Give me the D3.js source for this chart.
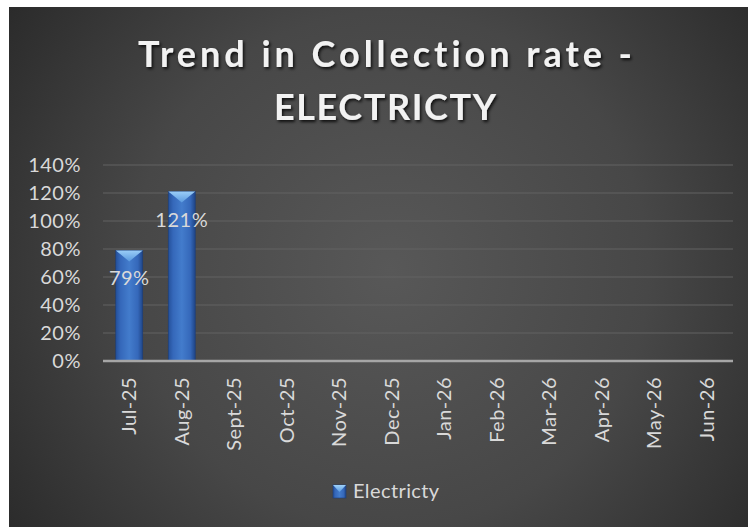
<!DOCTYPE html>
<html>
<head>
<meta charset="utf-8">
<script src="https://cdn.jsdelivr.net/npm/d3@7"></script>
<style>
  html, body { margin: 0; padding: 0; background: #ffffff; }
  svg { display: block; }
  text { font-family: Lato, "Open Sans", sans-serif; font-variant-ligatures: none; }
</style>
</head>
<body>
<svg id="chart" width="748" height="527"></svg>
<script>
// Monthly collection rate, electricity, FY Jul-25 to Jun-26
const months = ["Jul-25", "Aug-25", "Sept-25", "Oct-25", "Nov-25", "Dec-25",
                "Jan-26", "Feb-26", "Mar-26", "Apr-26", "May-26", "Jun-26"];
const collectionRate = [0.79, 1.21, null, null, null, null, null, null, null, null, null, null];
const yTicks = [0, 0.2, 0.4, 0.6, 0.8, 1.0, 1.2, 1.4];
const seriesName = "Electricty";
const titleLines = ["Trend in Collection rate -", "ELECTRICTY"];

const svg = d3.select("#chart");
const W = 748, H = 527;
const plot = { left: 103, right: 733, top: 165, bottom: 361 };
const labelFont = 20, labelSpacing = 0.5, labelColor = "#d9d9d9";

const defs = svg.append("defs");

// dark radial backdrop
const bg = defs.append("radialGradient").attr("id", "bgGrad")
  .attr("gradientUnits", "userSpaceOnUse")
  .attr("cx", 390).attr("cy", 270).attr("r", 470);
bg.append("stop").attr("offset", "0%").attr("stop-color", "#585858");
bg.append("stop").attr("offset", "55%").attr("stop-color", "#474747");
bg.append("stop").attr("offset", "100%").attr("stop-color", "#2a2a2a");

// bar body shading
const barGrad = defs.append("linearGradient").attr("id", "barGrad")
  .attr("x1", "0%").attr("x2", "100%").attr("y1", "0%").attr("y2", "0%");
barGrad.append("stop").attr("offset", "0%").attr("stop-color", "#24509a");
barGrad.append("stop").attr("offset", "18%").attr("stop-color", "#3568ba");
barGrad.append("stop").attr("offset", "50%").attr("stop-color", "#437ccc");
barGrad.append("stop").attr("offset", "82%").attr("stop-color", "#3568ba");
barGrad.append("stop").attr("offset", "100%").attr("stop-color", "#1f4586");

// bar top bevel
const capGrad = defs.append("linearGradient").attr("id", "capGrad")
  .attr("x1", "0%").attr("x2", "0%").attr("y1", "0%").attr("y2", "100%");
capGrad.append("stop").attr("offset", "0%").attr("stop-color", "#9fd2fa");
capGrad.append("stop").attr("offset", "100%").attr("stop-color", "#5b9be0");

const shadow = defs.append("filter").attr("id", "titleShadow")
  .attr("x", "-10%").attr("y", "-30%").attr("width", "120%").attr("height", "160%");
shadow.append("feDropShadow").attr("dx", 1.5).attr("dy", 2).attr("stdDeviation", 1.6)
  .attr("flood-color", "#000").attr("flood-opacity", 0.8);

svg.append("rect").attr("x", 9).attr("y", 7).attr("width", W - 9).attr("height", H - 7)
  .attr("fill", "url(#bgGrad)");

// title
const titleG = svg.append("g").attr("filter", "url(#titleShadow)");
const titleSpec = [
  { text: titleLines[0], y: 67, len: 494 },
  { text: titleLines[1], y: 120, len: 222 }
];
titleG.selectAll("text").data(titleSpec).join("text")
  .attr("x", 385).attr("y", d => d.y)
  .attr("text-anchor", "middle")
  .attr("font-size", 36).attr("font-weight", 700)
  .attr("fill", "#f2f2f2")
  .attr("textLength", d => d.len).attr("lengthAdjust", "spacing")
  .text(d => d.text);

// scales
const x = d3.scaleBand().domain(months)
  .range([plot.left, plot.right]).paddingInner(0.486).paddingOuter(0.243);
const y = d3.scaleLinear().domain([0, 1.4]).range([plot.bottom, plot.top]);

// gridlines
svg.append("g").selectAll("line").data(yTicks.filter(t => t > 0)).join("line")
  .attr("x1", plot.left).attr("x2", plot.right)
  .attr("y1", d => y(d)).attr("y2", d => y(d))
  .attr("stroke", "#626262").attr("stroke-width", 1.2);

// y axis labels
const yAxis = svg.append("g").attr("transform", `translate(${plot.left - 22},0)`)
  .call(d3.axisLeft(y).tickValues(yTicks).tickFormat(d3.format(".0%")).tickSize(0).tickPadding(0));
yAxis.select(".domain").remove();
yAxis.selectAll("text")
  .attr("fill", labelColor).attr("font-size", labelFont)
  .attr("letter-spacing", labelSpacing)
  .style("font-family", "Lato, 'Open Sans', sans-serif");

// bars
const barData = months.map((m, i) => ({ m, v: collectionRate[i] })).filter(d => d.v != null);
const bars = svg.append("g");
bars.selectAll("rect").data(barData).join("rect")
  .attr("x", d => x(d.m)).attr("width", x.bandwidth())
  .attr("y", d => y(d.v)).attr("height", d => y(0) - y(d.v))
  .attr("fill", "url(#barGrad)")
  .attr("stroke", "#1c3d78").attr("stroke-width", 0.6);
bars.selectAll("path").data(barData).join("path")
  .attr("d", d => {
    const x0 = x(d.m), x1 = x0 + x.bandwidth(), xc = (x0 + x1) / 2, t = y(d.v);
    return `M${x0},${t} L${x1},${t} L${x1 - 5},${t + 4} L${xc},${t + 11} L${x0 + 5},${t + 4} Z`;
  })
  .attr("fill", "url(#capGrad)").attr("opacity", 0.95);

// baseline
svg.append("line")
  .attr("x1", plot.left).attr("x2", plot.right)
  .attr("y1", y(0)).attr("y2", y(0))
  .attr("stroke", "#a6a6a6").attr("stroke-width", 2.5);

// data labels
svg.append("g").selectAll("text").data(barData).join("text")
  .attr("x", d => x(d.m) + x.bandwidth() / 2)
  .attr("y", d => y(d.v) + 35)
  .attr("text-anchor", "middle")
  .attr("font-size", labelFont).attr("letter-spacing", labelSpacing).attr("fill", labelColor)
  .text(d => d3.format(".0%")(d.v));

// x axis labels (rotated)
svg.append("g").selectAll("text").data(months).join("text")
  .attr("transform", d => `translate(${x(d) + x.bandwidth() / 2},377) rotate(-90)`)
  .attr("dy", "0.35em")
  .attr("text-anchor", "end")
  .attr("font-size", labelFont).attr("letter-spacing", labelSpacing).attr("fill", labelColor)
  .text(d => d);

// legend
const lg = svg.append("g").attr("transform", "translate(333,485)");
lg.append("rect").attr("width", 13).attr("height", 13)
  .attr("fill", "url(#barGrad)").attr("stroke", "#1c3d78").attr("stroke-width", 0.6);
lg.append("path").attr("d", "M0,0 L13,0 L6.5,7 Z").attr("fill", "url(#capGrad)");
lg.append("text").attr("x", 20).attr("y", 13)
  .attr("font-size", labelFont).attr("letter-spacing", 0.4).attr("fill", labelColor)
  .text(seriesName);
</script>
</body>
</html>
